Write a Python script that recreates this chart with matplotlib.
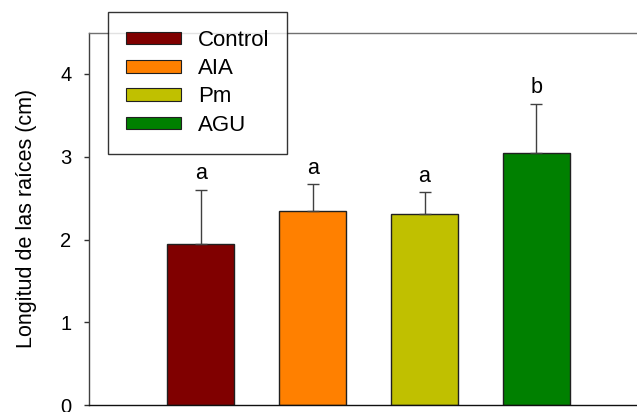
import matplotlib.pyplot as plt
from matplotlib.patches import Patch

# ================================
# Data
# ================================

treatments = ["Control", "AIA", "Pm", "AGU"]
root_length = [1.95, 2.34, 2.31, 3.04]
err_upper = [0.65, 0.33, 0.26, 0.60]
letters = ["a", "a", "a", "b"]
colors = ["#800000", "#FF8000", "#C0C000", "#008000"]

plt.rcParams["font.family"] = ["Liberation Sans", "DejaVu Sans"]

# ================================
# Plot
# ================================

fig = plt.figure(figsize=(6.37, 4.12), dpi=100)
ax = fig.add_axes([89 / 637, 1 - 405.3 / 412, 1 - 89 / 637, (405.3 - 32.5) / 412])

xs = list(range(len(treatments)))
ax.bar(xs, root_length, width=0.6, color=colors, edgecolor="#202020",
       linewidth=1.0, zorder=2)
ax.errorbar(xs, root_length, yerr=[[0] * len(xs), err_upper], fmt="none",
            ecolor="#404040", elinewidth=1.0, capsize=4.3, capthick=1.0, zorder=3)

for x, v, e, t in zip(xs, root_length, err_upper, letters):
    ax.annotate(t, (x, v + e), xytext=(0, 4), textcoords="offset points",
                ha="center", va="bottom", fontsize=15.5)

ax.set_xlim(-1.0, 3.9)
ax.set_ylim(0, 4.5)
ax.set_yticks([0, 1, 2, 3, 4])
ax.set_xticks([])
ax.tick_params(axis="y", direction="out", length=3.6, width=1.0,
               labelsize=14.5, colors="#303030", labelcolor="black", pad=9)
ax.set_ylabel("Longitud de las raíces (cm)", fontsize=15.5, labelpad=17)

ax.spines["right"].set_visible(False)
ax.spines["top"].set_color("#707070")
ax.spines["left"].set_color("#404040")
ax.spines["bottom"].set_color("#101010")
for s in ax.spines.values():
    s.set_linewidth(1.0)

handles = [Patch(facecolor=c, edgecolor="#202020", linewidth=0.8) for c in colors]
leg = fig.legend(handles, treatments, loc="upper left",
                 bbox_to_anchor=(108 / 637, 1 - 12 / 412), fontsize=16,
                 frameon=True, fancybox=False, edgecolor="black",
                 borderpad=0.8, labelspacing=0.33, handlelength=2.5,
                 handleheight=0.5, handletextpad=0.75, borderaxespad=0)
leg.get_frame().set_linewidth(1.0)
leg.set_zorder(5)

fig.savefig("out.png", dpi=100)
